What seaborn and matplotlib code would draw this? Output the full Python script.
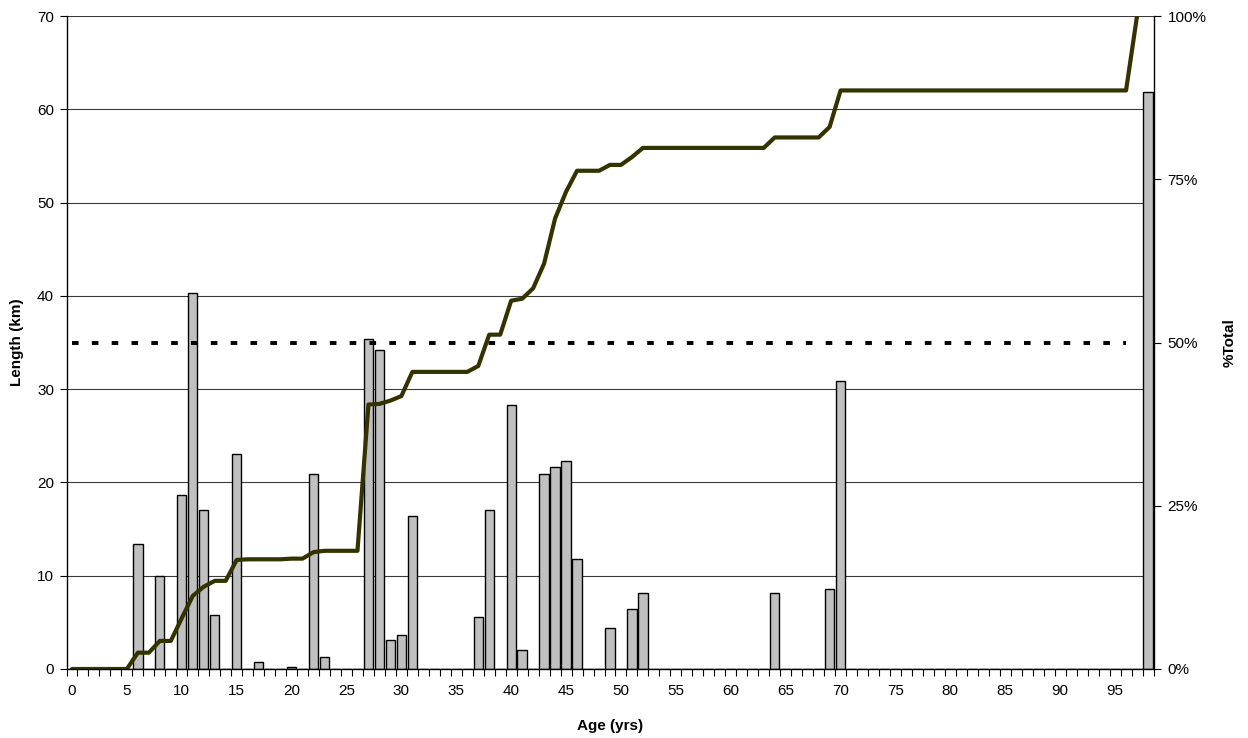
import numpy as np
import pandas as pd
import matplotlib
matplotlib.use("Agg")
import matplotlib.pyplot as plt
from matplotlib.ticker import FixedLocator, PercentFormatter
import seaborn as sns

# ---- data ----
all_ages = list(range(0, 99))
bar_ages = [6, 8, 10, 11, 12, 13, 15, 17, 20, 22, 23, 27, 28, 29, 30, 31, 37, 38,
            40, 41, 43, 44, 45, 46, 49, 51, 52, 64, 69, 70, 98]
bar_lengths = [13.4, 10.0, 18.6, 40.3, 17.0, 5.75, 23.0, 0.8, 0.2, 20.9, 1.3, 35.4, 34.2,
               3.1, 3.6, 16.4, 5.6, 17.0, 28.3, 2.0, 20.9, 21.7, 22.3, 11.8, 4.4, 6.4,
               8.15, 8.2, 8.6, 30.9, 61.9]

line_ages = list(range(0, 98))
cum_pct = [0, 0, 0, 0, 0, 0, 2.5, 2.5, 4.3, 4.3,
           7.8, 11.2, 12.6, 13.5, 13.5, 16.7, 16.8, 16.8, 16.8, 16.8,
           16.9, 16.9, 17.9, 18.1, 18.1, 18.1, 18.1, 40.5, 40.6, 41.1,
           41.8, 45.5, 45.5, 45.5, 45.5, 45.5, 45.5, 46.4, 51.2, 51.2,
           56.4, 56.7, 58.3, 62.1, 69.0, 73.1, 76.3, 76.3, 76.3, 77.2,
           77.2, 78.4, 79.8, 79.8, 79.8, 79.8, 79.8, 79.8, 79.8, 79.8,
           79.8, 79.8, 79.8, 79.8, 81.4, 81.4, 81.4, 81.4, 81.4, 83.0,
           88.6, 88.6, 88.6, 88.6, 88.6, 88.6, 88.6, 88.6, 88.6, 88.6,
           88.6, 88.6, 88.6, 88.6, 88.6, 88.6, 88.6, 88.6, 88.6, 88.6,
           88.6, 88.6, 88.6, 88.6, 88.6, 88.6, 88.6, 100.0]

half_ages = list(range(0, 97))
half_pct = [50.0] * len(half_ages)

x_tick_labels = [str(v) for v in range(0, 96, 5)]
left_ticks = [0, 10, 20, 30, 40, 50, 60, 70]
right_ticks = [0, 25, 50, 75, 100]

# ---- build frame ----
length_map = dict(zip(bar_ages, bar_lengths))
df_bars = pd.DataFrame({"age": all_ages,
                        "length": [length_map.get(a, 0.0) for a in all_ages]})
df_line = pd.DataFrame({"age": line_ages, "pct": cum_pct})
df_half = pd.DataFrame({"age": half_ages, "pct": half_pct})

sns.set_theme(style="white")
plt.rcParams["font.family"] = ["Liberation Sans", "DejaVu Sans"]
plt.rcParams.update({"text.color": "black", "axes.labelcolor": "black",
                     "xtick.color": "black", "ytick.color": "black"})

FS = 11

fig = plt.figure(figsize=(12.48, 7.38), dpi=100)
ax = fig.add_axes([66.5 / 1248, 1 - 669 / 738, (1153.5 - 66.5) / 1248, (669 - 16) / 738])

sns.barplot(data=df_bars, x="age", y="length", order=all_ages, color="#C0C0C0",
            saturation=1, edgecolor="black", linewidth=1.0, width=0.85, ax=ax)

ax.set_xlim(-0.5, 98.5)
ax.set_ylim(0, 70)
ax.set_yticks(left_ticks)
ax.set_yticklabels([str(t) for t in left_ticks], fontsize=FS)
ax.set_xticks(list(range(0, 96, 5)))
ax.set_xticklabels(x_tick_labels, fontsize=FS)
ax.xaxis.set_minor_locator(FixedLocator(np.arange(-0.5, 99, 1.0)))
ax.tick_params(axis="x", which="major", length=0, pad=11)
ax.tick_params(axis="x", which="minor", length=5, width=0.8, color="black", bottom=True)
ax.tick_params(axis="y", which="major", length=5, width=0.8, color="black", left=True, pad=4)
ax.yaxis.grid(True, color="#3a3a3a", linewidth=0.8)
ax.set_axisbelow(True)
for s in ["top", "right"]:
    ax.spines[s].set_visible(False)
for s in ["left", "bottom"]:
    ax.spines[s].set_color("black")
    ax.spines[s].set_linewidth(1.0)

ax.set_xlabel("Age (yrs)", fontsize=FS, fontweight="bold", va="center")
ax.xaxis.set_label_coords(0.5, (669 - 726) / 653)
ax.set_ylabel("Length (km)", fontsize=FS, fontweight="bold", va="center")
ax.yaxis.set_label_coords((17 - 66.5) / 1087, 0.5)

ax2 = ax.twinx()
sns.lineplot(data=df_half, x="age", y="pct", ax=ax2, color="black", linewidth=2.8,
             linestyle=(0, (1.7, 3.4)), solid_capstyle="butt")
sns.lineplot(data=df_line, x="age", y="pct", ax=ax2, color="#333300", linewidth=3.0)
ax2.set_xlim(-0.5, 98.5)
ax2.set_ylim(0, 100)
ax2.set_yticks(right_ticks)
ax2.yaxis.set_major_formatter(PercentFormatter(decimals=0))
ax2.tick_params(axis="y", which="major", length=5, width=0.8, color="black", right=True,
                labelsize=FS, pad=5)
ax2.set_ylabel("%Total", fontsize=FS, fontweight="bold", va="center")
ax2.yaxis.set_label_coords((1230 - 66.5) / 1087, 0.5)
ax2.set_xlabel("")
for s in ["top", "left", "bottom"]:
    ax2.spines[s].set_visible(False)
ax2.spines["right"].set_color("black")
ax2.spines["right"].set_linewidth(1.0)

fig.savefig("out.png", dpi=100)
